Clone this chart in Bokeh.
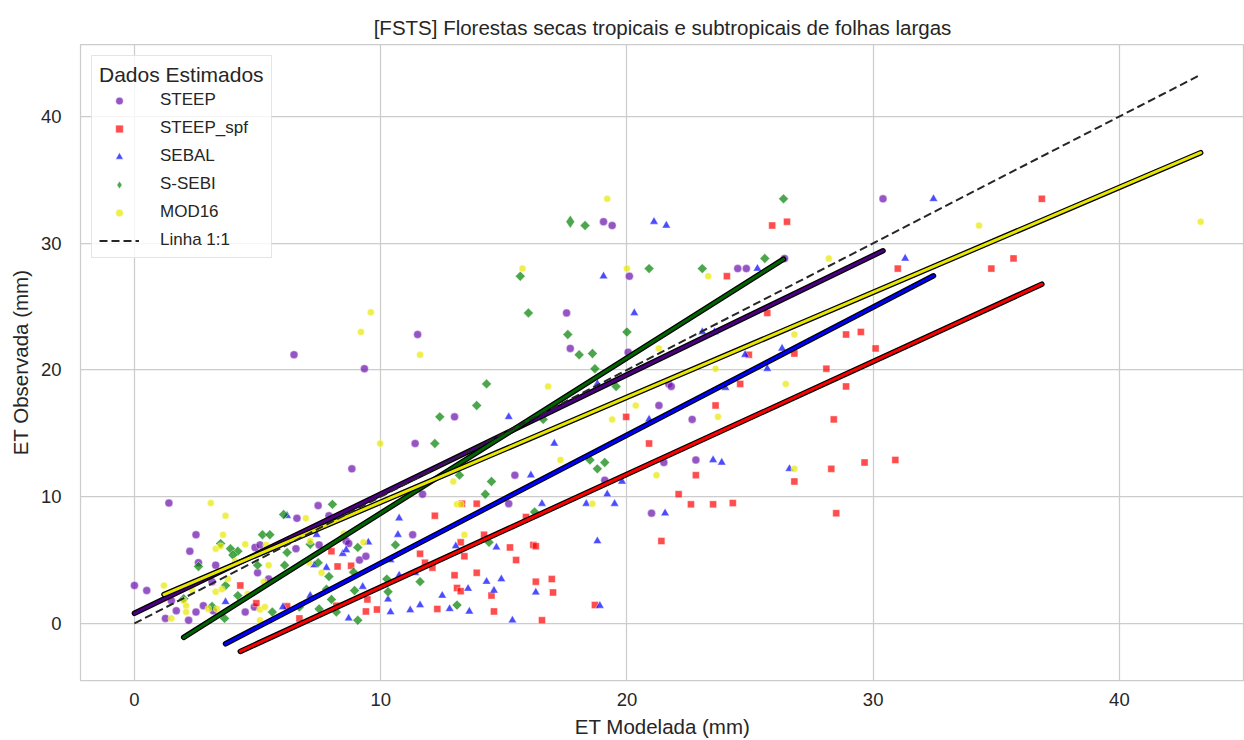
import numpy as np
from bokeh.plotting import figure
from bokeh.models import (Range1d, Legend, LegendItem, FixedTicker, ColumnDataSource,
                          CDSView, IndexFilter)
from bokeh.embed import file_html
from bokeh.resources import INLINE

# ---------------- data ----------------
series_names = ["STEEP", "STEEP_spf", "SEBAL", "S-SEBI", "MOD16"]

steep_x = [19.05, 19.4, 20.1, 17.55, 11.5, 24.5, 24.85, 26.4, 30.4, 6.48, 9.34, 8.83, 1.4, 7.46,
           17.7, 20.05, 21.7, 21.8, 13.0, 21.3, 11.4, 21.5, 15.45, 19.1, 11.7, 15.2, 22.65, 22.8,
           21.0, 11.3, 6.6, 7.9, 2.5, 2.25, 4.9, 5.1, 6.56, 7.5, 2.6, 3.3, 5.0, 8.6, 8.7, 9.14,
           9.4, 0.0, 0.5, 1.5, 1.7, 1.26, 2.2, 2.5, 2.8, 3.2, 3.15, 4.5, 4.87, 5.45]
steep_y = [31.7, 31.4, 27.4, 24.5, 22.8, 28.0, 28.0, 28.8, 33.5, 21.2, 20.1, 12.2, 9.5, 9.3,
           21.7, 21.4, 18.9, 18.7, 16.3, 17.2, 14.2, 12.7, 11.7, 11.3, 10.2, 9.45, 16.1, 12.9,
           8.7, 7.0, 8.3, 8.5, 7.0, 5.7, 6.0, 6.2, 5.9, 6.2, 4.8, 4.6, 4.0, 6.5, 6.3, 5.0,
           5.3, 3.0, 2.6, 1.8, 1.0, 0.4, 0.25, 0.9, 1.4, 1.0, 3.3, 0.9, 1.3, 3.5]

spf_x = [25.9, 26.5, 24.06, 31.0, 25.7, 28.9, 29.5, 36.85, 35.7, 34.8, 19.97, 20.9, 22.1, 13.3,
         13.9, 30.1, 24.95, 26.8, 28.1, 24.6, 28.9, 23.6, 28.4, 28.3, 29.65, 30.9, 22.8, 26.8,
         22.6, 23.5, 24.3, 28.5, 21.4, 12.2, 14.2, 15.9, 13.25, 13.4, 11.6, 15.25, 16.2, 16.3,
         15.5, 11.8, 12.1, 13.0, 13.9, 16.3, 16.95, 13.1, 13.25, 14.5, 17.0, 12.3, 14.6, 16.55,
         18.7, 8.0, 8.25, 8.8, 9.46, 9.85, 9.4, 4.3, 4.95, 6.2, 6.7, 8.2]
spf_y = [31.4, 31.7, 27.4, 28.0, 24.5, 22.8, 23.0, 33.5, 28.8, 28.0, 16.3, 14.2, 10.2, 9.45,
         9.45, 21.7, 21.2, 21.3, 20.1, 18.9, 18.7, 17.2, 16.1, 12.2, 12.7, 12.9, 11.7, 11.2,
         9.4, 9.4, 9.5, 8.7, 6.5, 8.5, 7.0, 8.4, 6.4, 5.3, 5.5, 6.0, 6.2, 6.1,
         5.0, 4.8, 4.4, 3.8, 4.0, 3.3, 3.5, 2.8, 2.55, 2.2, 2.45, 1.15, 0.95, 0.25,
         1.45, 5.7, 4.5, 4.55, 1.9, 1.1, 0.95, 3.0, 1.6, 1.35, 0.4, 1.4]

sebal_x = [21.1, 21.6, 19.05, 20.3, 25.3, 32.45, 31.3, 23.06, 23.56, 15.2, 17.05, 20.9, 16.1,
           19.8, 19.2, 16.55, 18.35, 19.5, 26.3, 24.8, 25.7, 24.0, 23.5, 23.85, 26.6, 21.55,
           10.75, 10.7, 18.8, 13.05, 14.7, 10.4, 10.75, 11.4, 14.3, 14.9, 13.55, 14.6, 16.3,
           10.3, 12.5, 10.4, 11.2, 11.6, 12.8, 13.6, 15.35, 18.9, 6.2, 7.4, 7.3, 7.8, 8.46,
           8.6, 9.5, 9.27, 8.7, 6.03, 7.14, 18.8, 3.7]
sebal_y = [31.7, 31.4, 27.4, 24.5, 28.0, 33.5, 28.8, 23.0, 23.0, 16.3, 14.2, 16.1, 11.7,
           11.2, 10.2, 9.45, 9.45, 9.45, 21.7, 21.2, 20.1, 18.6, 12.9, 12.7, 12.2, 8.7,
           8.3, 7.0, 6.5, 6.1, 6.0, 5.0, 3.8, 4.0, 3.3, 3.5, 2.75, 2.6, 2.45,
           1.9, 2.2, 0.9, 1.05, 1.45, 1.15, 0.95, 0.25, 1.4, 8.5, 7.0, 4.6, 4.4, 5.5,
           5.8, 6.4, 2.9, 0.4, 1.3, 2.2, 18.9, 1.7]

ssebi_x = [17.7, 18.3, 15.67, 20.9, 16.0, 17.6, 20.0, 26.36, 23.06, 25.6, 8.04, 18.06, 18.6,
           18.7, 14.3, 19.56, 13.9, 12.4, 16.6, 12.2, 18.5, 19.1, 18.8, 13.2, 14.5, 14.25,
           16.25, 10.6, 14.4, 10.25, 11.6, 10.3, 13.1, 6.06, 5.2, 5.5, 3.5, 3.9, 4.2, 4.0,
           6.2, 7.14, 2.6, 5.0, 6.1, 7.46, 7.9, 9.07, 8.9, 8.94, 9.07, 2.0, 3.15, 3.7, 3.66,
           4.2, 5.6, 6.7, 7.5, 7.8, 8.0, 8.2]
ssebi_y = [31.7, 31.4, 27.4, 28.0, 24.5, 22.8, 23.0, 33.5, 28.0, 28.8, 9.4, 21.2, 21.3,
           20.1, 18.9, 18.7, 17.2, 16.3, 16.1, 14.2, 12.9, 12.7, 12.2, 11.7, 11.2, 10.2,
           8.8, 6.2, 6.4, 3.5, 3.3, 2.5, 1.45, 8.6, 7.0, 7.0, 6.3, 5.9, 5.7, 5.4,
           5.6, 6.25, 4.5, 4.6, 4.6, 4.8, 3.7, 6.0, 4.05, 2.6, 0.25, 1.95, 1.35, 3.0, 0.4,
           2.2, 0.9, 1.3, 1.15, 2.7, 1.9, 0.9]

mod16_x = [19.2, 15.76, 20.0, 23.3, 28.2, 26.8, 34.3, 43.3, 9.6, 9.2, 9.98, 3.1, 11.6, 21.3,
           16.8, 20.36, 19.4, 17.3, 21.2, 12.95, 13.1, 13.25, 18.6, 23.6, 26.45, 23.7, 26.8,
           3.7, 6.96, 3.6, 13.4, 3.3, 3.5, 4.5, 5.35, 7.14, 4.1, 5.45, 7.1, 7.6, 9.3, 8.5,
           1.2, 1.5, 2.0, 2.1, 2.1, 2.35, 3.0, 3.35, 3.3, 3.55, 3.8, 4.6, 5.1, 5.3, 5.25, 5.1]
mod16_y = [33.5, 28.0, 28.0, 27.4, 28.8, 22.8, 31.4, 31.7, 24.55, 23.0, 14.2, 9.5, 21.2, 21.7,
           18.7, 17.2, 16.1, 12.9, 11.7, 11.2, 9.4, 9.4, 9.45, 20.1, 18.9, 16.3, 12.2,
           8.5, 8.3, 7.0, 7.0, 5.9, 6.1, 6.25, 6.2, 6.5, 4.9, 4.6, 4.8, 4.0, 6.4, 7.1,
           3.0, 0.4, 1.8, 1.4, 0.9, 2.6, 1.15, 1.15, 2.5, 2.7, 3.5, 2.35, 1.1, 1.3, 3.3, 0.25]

# regression coefficients of each series' fitted line
fit_slope = [0.941, 0.890, 1.010, 1.225, 0.828]
fit_intercept = [0.80, -6.03, -5.34, -3.55, 1.29]

xs_all = [steep_x, spf_x, sebal_x, ssebi_x, mod16_x]
ys_all = [steep_y, spf_y, sebal_y, ssebi_y, mod16_y]

# ---------------- styles ----------------
point_colors = ["#6a0dad", "red", "blue", "green", "#e8e800"]
markers = ["circle", "square", "triangle", "square", "circle"]
legend_markers = ["circle", "square", "triangle", "diamond", "circle"]
marker_angles = [0, 0, 0, np.pi / 4, 0]
marker_sizes = [8, 7, 8.5, 7, 7]
legend_sizes = [8, 7, 8.5, 13, 7]
line_colors = ["#4b0082", "#ff0000", "#0000ff", "#006400", "#e6e600"]
FONT = "Liberation Sans"
TXT = "#262626"

p = figure(width=1244, height=740, output_backend="svg", toolbar_location=None,
           x_range=Range1d(-2.19, 45.08), y_range=Range1d(-4.5, 45.68),
           min_border_left=80, min_border_right=0, min_border_top=44, min_border_bottom=60,
           title="[FSTS] Florestas secas tropicais e subtropicais de folhas largas")

p.title.align = "center"
p.title.text_font = FONT
p.title.text_font_size = "20.5px"
p.title.text_font_style = "normal"
p.title.text_color = TXT
p.title.standoff = 12

p.background_fill_color = "white"
p.border_fill_color = "white"
p.outline_line_color = "#cccccc"
p.outline_line_width = 1.25

for ax in (p.xaxis[0], p.yaxis[0]):
    ax.ticker = FixedTicker(ticks=[0, 10, 20, 30, 40])
    ax.axis_line_color = None
    ax.major_tick_line_color = None
    ax.minor_tick_line_color = None
    ax.major_label_text_font = FONT
    ax.major_label_text_font_size = "18.5px"
    ax.major_label_text_color = TXT
    ax.axis_label_text_font = FONT
    ax.axis_label_text_font_size = "20.5px"
    ax.axis_label_text_font_style = "normal"
    ax.axis_label_text_color = TXT

p.xaxis.axis_label = "ET Modelada (mm)"
p.yaxis.axis_label = "ET Observada (mm)"
p.xaxis.major_label_standoff = 6
p.yaxis.major_label_standoff = 13
p.xaxis.axis_label_standoff = 6
p.yaxis.axis_label_standoff = 6

p.grid.grid_line_color = "#cccccc"
p.grid.grid_line_width = 1.25
p.grid.ticker = FixedTicker(ticks=[0, 10, 20, 30, 40])

items = []
for i, name in enumerate(series_names):
    src = ColumnDataSource(dict(x=xs_all[i], y=ys_all[i]))
    style = dict(fill_color=point_colors[i], fill_alpha=0.7,
                 line_color="white", line_alpha=0.7, line_width=0.6)
    if legend_markers[i] == markers[i]:
        r = p.scatter("x", "y", source=src, marker=markers[i], size=marker_sizes[i],
                      angle=marker_angles[i], **style)
    else:
        # rotated squares for all points but the first; the first point carries the
        # legend swatch (legend glyphs ignore marker angles)
        n = len(xs_all[i])
        p.scatter("x", "y", source=src, view=CDSView(filter=IndexFilter(indices=list(range(1, n)))),
                  marker=markers[i], size=marker_sizes[i], angle=marker_angles[i], **style)
        r = p.scatter("x", "y", source=src, view=CDSView(filter=IndexFilter(indices=[0])),
                      marker=legend_markers[i], size=legend_sizes[i], **style)
    items.append(LegendItem(label=name, renderers=[r]))

# fitted lines
for i in range(len(series_names)):
    xs = np.array(xs_all[i])
    fx = np.array([xs.min(), xs.max()])
    fy = fit_slope[i] * fx + fit_intercept[i]
    p.line(fx, fy, line_color="black", line_width=5.5, line_cap="round")
    p.line(fx, fy, line_color=line_colors[i], line_width=3, line_cap="round")

# 1:1 line
allx = np.concatenate([np.array(v) for v in xs_all])
ox = np.array([allx.min(), allx.max()])
r11 = p.line(ox, ox, line_color="#262626", line_width=2, line_dash="8 4")
items.append(LegendItem(label="Linha 1:1", renderers=[r11]))

legend = Legend(items=items, location="top_left", title="Dados Estimados")
legend.margin = 11
legend.padding = 7
legend.spacing = 8
legend.glyph_width = 40
legend.glyph_height = 19
legend.label_height = 19
legend.label_standoff = 21
legend.title_standoff = 3
legend.title_text_font = FONT
legend.title_text_font_size = "21px"
legend.title_text_font_style = "normal"
legend.title_text_color = TXT
legend.label_text_font = FONT
legend.label_text_font_size = "17px"
legend.label_text_color = TXT
legend.border_line_color = "#cccccc"
legend.border_line_width = 1
legend.background_fill_alpha = 0.8
p.add_layout(legend)

open("out.html", "w").write(file_html(p, INLINE))
